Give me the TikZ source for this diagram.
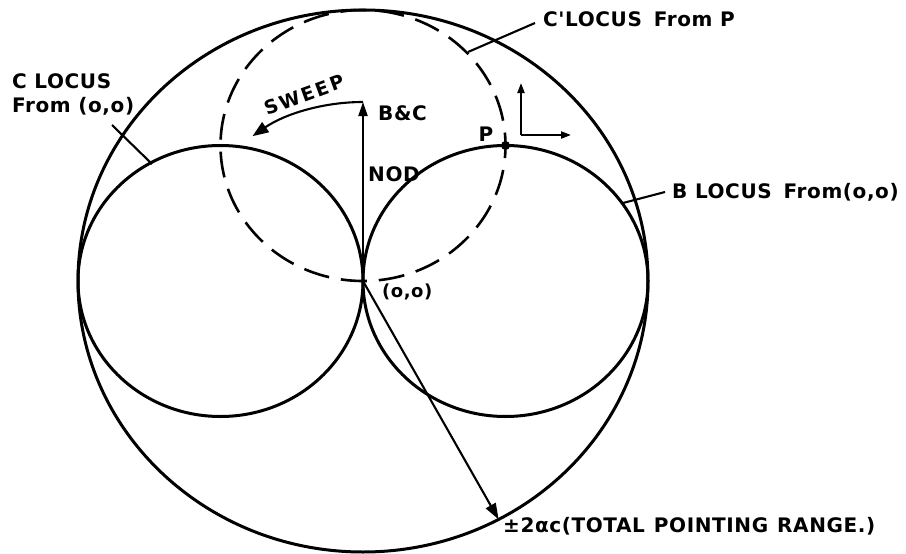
\documentclass[tikz,border=0pt]{standalone}
\usepackage{fontspec}
\newfontfamily\lab[LetterSpace=3]{DejaVu Sans}
\newfontfamily\labwide[LetterSpace=12]{DejaVu Sans}
\usetikzlibrary{arrows.meta}
\begin{document}
\begin{tikzpicture}[x=1pt,y=-1pt,
  lbl/.style={font=\lab\bfseries\fontsize{20}{24}\selectfont, inner sep=0pt},
  circ/.style={line width=3pt},
  arr/.style={line width=2.1pt, -{Triangle[length=14pt,width=9pt]}},
  sarr/.style={line width=2.1pt, -{Triangle[length=10pt,width=7pt]}},
  lead/.style={line width=2.1pt}]
\useasboundingbox (0,0) rectangle (906,554);
% key points
\coordinate (O) at (363,281);
\coordinate (P) at (505.5,145.5);
\coordinate (Lc) at (220.5,281);
\coordinate (Rc) at (505.5,281);
\coordinate (Dc) at (363,145.5);
\coordinate (top) at (363,102);
\coordinate (R) at (498.6,519.4);
\coordinate (ax) at (521,135);
\coordinate (axU) at (521,83);
\coordinate (axR) at (571,135);
% circles
\draw[circ] (O) ellipse [x radius=285pt, y radius=271pt];
\draw[circ] (Lc) ellipse [x radius=142.5pt, y radius=135.5pt];
\draw[circ] (Rc) ellipse [x radius=142.5pt, y radius=135.5pt];
\draw[circ, line width=2.6pt, dash pattern=on 26pt off 12pt, dash phase=13pt]
  (Dc) ellipse [x radius=142.5pt, y radius=135.5pt];
% arrows
\draw[arr] (O) -- (top);
\draw[arr, -{Triangle[length=16pt,width=12pt]}] (top) arc[start angle=90, end angle=126, x radius=188pt, y radius=179pt];
\draw[arr, -{Triangle[length=16pt,width=11pt]}] (O) -- (R);
\draw[sarr] (ax) -- (axU);
\draw[sarr] (ax) -- (axR);
% point P
\fill (P) circle (4.5pt);
% labels
\node[lbl, anchor=base west] (clocus) at (12,88) {C LOCUS};
\node[lbl, anchor=base west] (cfrom) at (12,112) {From (o,o)};
\node[lbl, anchor=base west] (cplocus) at (543,27) {C'LOCUS\hspace{12pt}From P};
\node[lbl, anchor=base west] (blocus) at (672,198) {B LOCUS\hspace{12pt}From(o,o)};
\node[lbl, anchor=base west] (range) at (503,532) {±2αc(TOTAL\hspace{9pt}POINTING\hspace{9pt}RANGE.)};
\node[lbl, font=\labwide\bfseries\fontsize{19}{23}\selectfont, rotate=20] (sweep) at (304,95) {SWEEP};
\node[lbl, anchor=west] (bc) at (378,113) {B\&C};
\node[lbl, anchor=west] (nod) at (368,174) {NOD};
\node[lbl, anchor=west, font=\lab\bfseries\fontsize{18}{21}\selectfont] (orig) at (382,292) {(o,o)};
\node[lbl] (plab) at (486,134) {P};
% leaders
\coordinate (cl1) at (112,125);
\coordinate (cl2) at (152,164);
\coordinate (cp1) at (535,23);
\coordinate (cp2) at (468,52);
\coordinate (bl1) at (665,192);
\coordinate (bl2) at (623,203);
\draw[lead] (cl1) -- (cl2);
\draw[lead] (cp1) -- (cp2);
\draw[lead] (bl1) -- (bl2);
\end{tikzpicture}
\end{document}
